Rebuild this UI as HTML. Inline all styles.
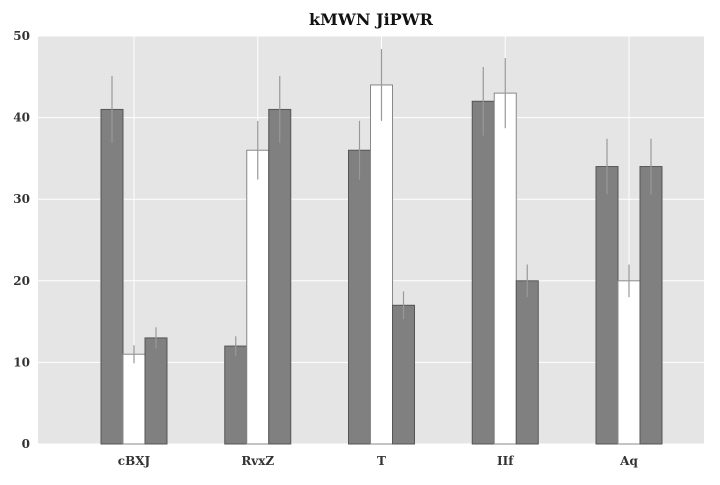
<!DOCTYPE html>
<html><head><meta charset="utf-8"><style>
body{margin:0;background:#fff;}
svg text{font-family:"DejaVu Serif","Liberation Serif",serif;font-weight:bold;}
</style></head><body>
<svg id="chart" width="720" height="480">
<rect x="38" y="36" width="666" height="408" fill="#e5e5e5"/>
<g id="grid"></g><g id="bars"></g><g id="ticks"></g>
<text x="371" y="25" text-anchor="middle" font-size="16" fill="#111">kMWN JiPWR</text>
</svg>
<script>
const categories=["cBXJ","RvxZ","T","IIf","Aq"];
const series1=[41,12,36,42,34];
const series2=[11,36,44,43,20];
const series3=[13,41,17,20,34];
const err1=[4.1,1.2,3.6,4.2,3.4];
const err2=[1.1,3.6,4.4,4.3,2];
const err3=[1.3,4.1,1.7,2,3.4];
const yTicks=[0,10,20,30,40,50];
const NS="http://www.w3.org/2000/svg";
const x0=38,x1=704,y0=444,y1=36;
const y=v=>y0-(v/50)*(y0-y1);
const xc=i=>134+i*123.75;
const bw=22;
function mk(tag,attrs,parent){const e=document.createElementNS(NS,tag);for(const k in attrs)e.setAttribute(k,attrs[k]);document.getElementById(parent).appendChild(e);return e;}
yTicks.forEach(t=>{
 const l=mk('line',{x1:x0,x2:x1,y1:y(t),y2:y(t),stroke:'#fff','stroke-width':1},'grid');
 
 
 const tx=mk('text',{x:x0-8,y:y(t)+4,'text-anchor':'end','font-size':12,fill:'#333'},'ticks');
 tx.textContent=t;
 
 
});
categories.forEach((c,i)=>{
 const l=mk('line',{x1:xc(i),x2:xc(i),y1:y1,y2:y0,stroke:'#fff','stroke-width':1},'grid');
 
 
 const tx=mk('text',{x:xc(i),y:y0+21,'text-anchor':'middle','font-size':12,fill:'#333'},'ticks');
 tx.textContent=c;
 
 
});
const ser=[[series1,err1,'#808080','#555'],[series2,err2,'#ffffff','#888'],[series3,err3,'#808080','#555']];
ser.forEach((s,j)=>{
 s[0].forEach((v,i)=>{
  const bx=xc(i)-1.5*bw+j*bw;
  const r=mk('rect',{x:bx,y:y(v),width:bw,height:y0-y(v),fill:s[2],stroke:s[3],'stroke-width':1},'bars');
  
  
  const e=mk('line',{x1:bx+bw/2,x2:bx+bw/2,y1:y(v+s[1][i]),y2:y(v-s[1][i]),stroke:'#999','stroke-width':1.2},'bars');
  
  
 });
});
</script>
</body></html>
